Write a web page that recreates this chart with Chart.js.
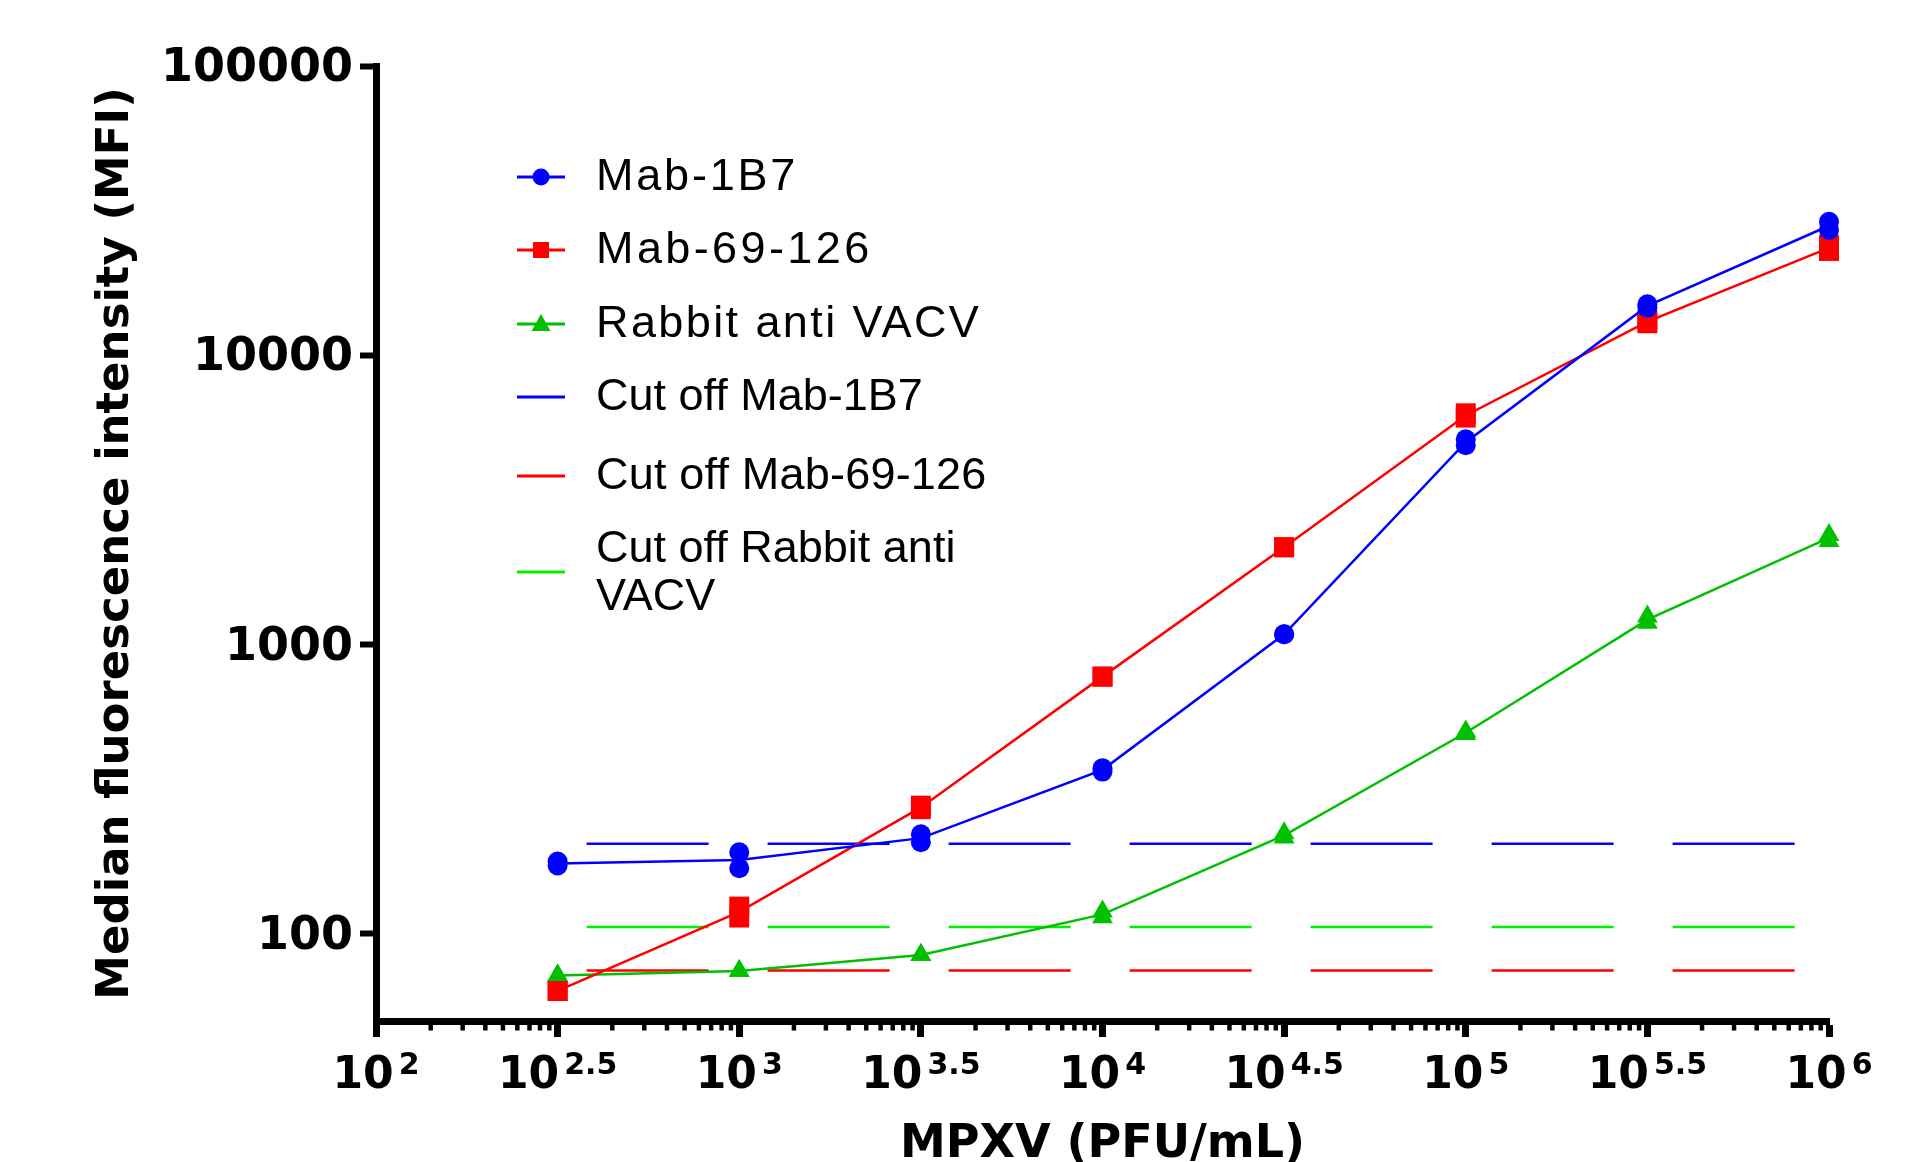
<!DOCTYPE html>
<html>
<head>
<meta charset="utf-8">
<script src="https://cdn.jsdelivr.net/npm/chart.js@4.4.0/dist/chart.umd.min.js"></script>
<style>
html,body{margin:0;padding:0;background:#fff;overflow:hidden}
canvas{display:block}
</style>
</head>
<body>
<canvas id="c" width="1915" height="1162" style="width:1915px;height:1162px"></canvas>
<script>
// ---- data ----
const xExponents = [2.5, 3, 3.5, 4, 4.5, 5, 5.5, 6];           // MPXV = 10^e PFU/mL
const mab1B7Rep1 = [177.8, 191.6, 221.1, 374, 1086, 5127, 15010, 28960];
const mab1B7Rep2 = [172.3, 168.7, 207.5, 364, 1086, 4889, 14620, 27120];
const mab69Rep1  = [63.5, 124.3, 277.6, 775, 2170, 6303, 13250, 24060];
const mab69Rep2  = [63.5, 113.9, 269.8, 775, 2170, 6088, 12900, 22940];
const rabbitRep1 = [71.8, 74.5, 84.6, 119.5, 222.8, 500.4, 1250, 2393];
const rabbitRep2 = [71.8, 74.5, 84.6, 114.2, 215.2, 491.2, 1191, 2282];
const cutoffX = [380, 831000];
const cutoffMab1B7 = 205;
const cutoffMab69 = 74.7;
const cutoffRabbit = 105.7;
const xTickExponents = [2, 2.5, 3, 3.5, 4, 4.5, 5, 5.5, 6];
const xTickSuperscripts = ['2', '2.5', '3', '3.5', '4', '4.5', '5', '5.5', '6'];
const yTickValues = [100, 1000, 10000, 100000];
const legendLabels = ['Mab-1B7', 'Mab-69-126', 'Rabbit anti VACV', 'Cut off Mab-1B7', 'Cut off Mab-69-126', 'Cut off Rabbit anti|VACV'];
const xTitle = 'MPXV (PFU/mL)';
const yTitle = 'Median fluorescence intensity (MFI)';

// ---- styling ----
const BLUE = '#0000FF', RED = '#FF0000', GREEN = '#00C000', LIME = '#00F000';
const xs = xExponents.map(e => Math.pow(10, e));
const pts = arr => arr.map((v, i) => ({x: xs[i], y: v}));
const repPts = (a, b) => pts(a).concat(pts(b));
const meanPts = (a, b) => a.map((v, i) => ({x: xs[i], y: (v + b[i]) / 2}));
const cutPts = v => cutoffX.map(x => ({x: x, y: v}));

function pointSet(a, b, color, style, r) {
  return {data: repPts(a, b), showLine: false, pointStyle: style, pointRadius: r,
    pointBackgroundColor: color, pointBorderWidth: 0, pointBorderColor: color,
    borderColor: color, clip: false, pointHoverRadius: r};
}
function lineSet(data, color, dash) {
  return {data: data, borderColor: color, borderWidth: 2.5, pointRadius: 0,
    pointHoverRadius: 0, borderDash: dash || [], fill: false, clip: false, tension: 0};
}

const datasets = [
  pointSet(mab1B7Rep1, mab1B7Rep2, BLUE, 'circle', 10),
  lineSet(meanPts(mab1B7Rep1, mab1B7Rep2), BLUE),
  pointSet(mab69Rep1, mab69Rep2, RED, 'rect', 14.1),
  lineSet(meanPts(mab69Rep1, mab69Rep2), RED),
  pointSet(rabbitRep1, rabbitRep2, GREEN, 'triangle', 12),
  lineSet(meanPts(rabbitRep1, rabbitRep2), GREEN),
  lineSet(cutPts(cutoffMab1B7), BLUE, [122, 59]),
  lineSet(cutPts(cutoffMab69), RED, [122, 59]),
  lineSet(cutPts(cutoffRabbit), LIME, [122, 59])
];

const legendStyles = [
  {color: BLUE, marker: 'circle', y: 177, spacing: '2.8px'},
  {color: RED, marker: 'rect', y: 250, spacing: '3.4px'},
  {color: GREEN, marker: 'triangle', y: 324, spacing: '2.4px'},
  {color: BLUE, marker: null, y: 397, spacing: '0px'},
  {color: RED, marker: null, y: 476, spacing: '0.2px'},
  {color: LIME, marker: null, y: 572, spacing: '0px'}
];

const decorPlugin = {
  id: 'decor',
  afterDraw(chart) {
    const ctx = chart.ctx;
    const xs_ = chart.scales.x;
    const bottom = chart.chartArea.bottom;
    ctx.save();
    // minor ticks on x axis
    ctx.strokeStyle = '#000';
    ctx.lineWidth = 4.5;
    for (let i = 0; i < xTickExponents.length - 1; i++) {
      const s = xTickExponents[i];
      for (let k = 2; k <= 9; k++) {
        const px = xs_.getPixelForValue(Math.pow(10, s + 0.5 * Math.log10(k)));
        ctx.beginPath();
        ctx.moveTo(px, bottom + 3);
        ctx.lineTo(px, bottom + 9.5);
        ctx.stroke();
      }
    }
    // x tick labels with superscripts
    ctx.fillStyle = '#000';
    ctx.textBaseline = 'alphabetic';
    ctx.textAlign = 'left';
    const mainFont = 'bold 44px "DejaVu Sans"';
    const supFont = 'bold 30px "DejaVu Sans"';
    xTickExponents.forEach((e, i) => {
      const px = xs_.getPixelForValue(Math.pow(10, e));
      ctx.font = mainFont;
      const w1 = ctx.measureText('10').width;
      ctx.font = supFont;
      const w2 = ctx.measureText(xTickSuperscripts[i]).width;
      const gap = 5;
      const x0 = px - (w1 + gap + w2) / 2;
      ctx.font = mainFont;
      ctx.fillText('10', x0, 1088);
      ctx.font = supFont;
      ctx.fillText(xTickSuperscripts[i], x0 + w1 + gap, 1074);
    });
    // legend
    const lx1 = 517, lx2 = 565, lcx = 541, tx = 596;
    ctx.font = '45px "Liberation Sans"';
    ctx.textBaseline = 'middle';
    legendLabels.forEach((lab, i) => {
      const st = legendStyles[i];
      ctx.strokeStyle = st.color;
      ctx.lineWidth = 3;
      ctx.beginPath();
      ctx.moveTo(lx1, st.y);
      ctx.lineTo(lx2, st.y);
      ctx.stroke();
      ctx.fillStyle = st.color;
      if (st.marker === 'circle') {
        ctx.beginPath(); ctx.arc(lcx, st.y, 8.5, 0, Math.PI * 2); ctx.fill();
      } else if (st.marker === 'rect') {
        ctx.fillRect(lcx - 8, st.y - 8, 16, 16);
      } else if (st.marker === 'triangle') {
        ctx.beginPath();
        ctx.moveTo(lcx, st.y - 10);
        ctx.lineTo(lcx + 9.5, st.y + 7);
        ctx.lineTo(lcx - 9.5, st.y + 7);
        ctx.closePath(); ctx.fill();
      }
      ctx.fillStyle = '#000';
      if ('letterSpacing' in ctx) ctx.letterSpacing = st.spacing;
      const lines = lab.split('|');
      if (lines.length === 1) {
        ctx.fillText(lines[0], tx, st.y + 1);
      } else {
        ctx.fillText(lines[0], tx, st.y - 22);
        ctx.fillText(lines[1], tx, st.y + 26);
      }
      if ('letterSpacing' in ctx) ctx.letterSpacing = '0px';
    });
    ctx.restore();
  }
};

new Chart(document.getElementById('c'), {
  type: 'line',
  data: {datasets: datasets},
  plugins: [decorPlugin],
  options: {
    responsive: false,
    animation: false,
    devicePixelRatio: 1,
    layout: {padding: {left: 0, top: 66, right: 86, bottom: 0}},
    plugins: {legend: {display: false}, tooltip: {enabled: false}},
    events: [],
    scales: {
      x: {
        type: 'logarithmic', position: 'bottom', min: 100, max: 1000000,
        afterBuildTicks: s => { s.ticks = xTickExponents.map(e => ({value: Math.pow(10, e)})); },
        afterFit: s => { s.height = 141; },
        grid: {display: true, drawOnChartArea: false, drawTicks: true, tickLength: 16, tickWidth: 7, tickColor: '#000'},
        border: {display: true, width: 7, color: '#000'},
        ticks: {display: false},
        title: {display: true, text: xTitle, color: '#000',
          font: {family: 'DejaVu Sans', weight: 'bold', size: 46, lineHeight: 0.75},
          padding: {top: 0, bottom: 0}}
      },
      y: {
        type: 'logarithmic', position: 'left', min: 50, max: 100000,
        afterBuildTicks: s => { s.ticks = yTickValues.map(v => ({value: v})); },
        afterFit: s => { s.width = 376; },
        grid: {display: true, drawOnChartArea: false, drawTicks: true, tickLength: 16, tickWidth: 6, tickColor: '#000'},
        border: {display: true, width: 7, color: '#000'},
        ticks: {display: true, padding: 7, color: '#000', labelOffset: 3, autoSkip: false,
          font: {family: 'DejaVu Sans', weight: 'bold', size: 46},
          callback: v => String(v)},
        title: {display: true, text: yTitle, color: '#000',
          font: {family: 'DejaVu Sans', weight: 'bold', size: 45, lineHeight: 1},
          padding: {top: 94, bottom: 0}}
      }
    }
  }
});
</script>
</body>
</html>
